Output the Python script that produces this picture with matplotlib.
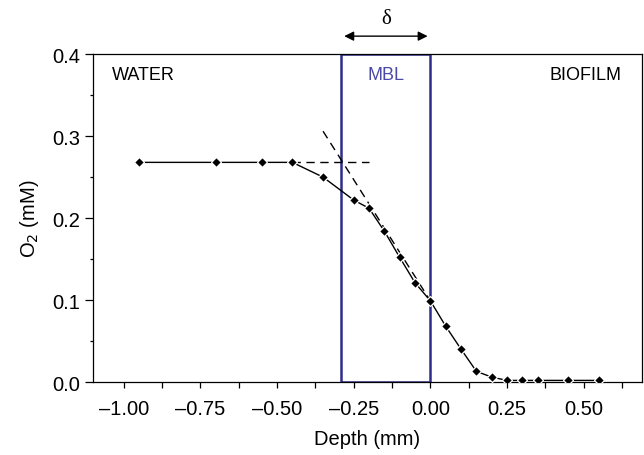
import numpy as np
import matplotlib.pyplot as plt
from matplotlib.ticker import MultipleLocator, FuncFormatter

plt.rcParams['font.family'] = ['Liberation Sans', 'DejaVu Sans']

# measured O2 profile (depth in mm, O2 in mM)
depth = [-0.95, -0.70, -0.55, -0.45, -0.35, -0.25, -0.20, -0.15, -0.10, -0.05,
         0.00, 0.05, 0.10, 0.15, 0.20, 0.25, 0.30, 0.35, 0.45, 0.55]
o2 = [0.268, 0.268, 0.268, 0.268, 0.250, 0.222, 0.212, 0.184, 0.152, 0.121,
      0.099, 0.068, 0.040, 0.013, 0.006, 0.002, 0.002, 0.002, 0.002, 0.002]

# construction lines
bulk_x = [-0.45, -0.20]
bulk_y = [0.268, 0.268]
tangent_x = [-0.35, 0.0]
tangent_y = [0.306, 0.099]

# boundary layer limits
mbl_left = -0.29
mbl_right = 0.0

fig = plt.figure(figsize=(6.44, 4.56), dpi=100)
ax = fig.add_axes([0.1444, 0.160, 0.8526, 0.719])

box_color = '#302c8c'
ax.add_patch(plt.Rectangle((mbl_left, 0), mbl_right - mbl_left, 0.4, fill=False,
                           edgecolor=box_color, linewidth=1.8, zorder=2))

ax.plot(bulk_x, bulk_y, 'k--', linewidth=1, dashes=(6, 4), zorder=3)
ax.plot(tangent_x, tangent_y, 'k--', linewidth=1, dashes=(6, 4), zorder=3)
ax.plot(depth, o2, '-', color='black', linewidth=1, marker='D', markersize=5,
        markerfacecolor='black', markeredgecolor='white', markeredgewidth=0.9, zorder=4)

ax.text(-1.037, 0.375, 'WATER', fontsize=13, va='center', ha='left')
ax.text((mbl_left + mbl_right) / 2, 0.375, 'MBL', fontsize=13, va='center', ha='center',
        color='#4a48a8')
ax.text(0.622, 0.375, 'BIOFILM', fontsize=13, va='center', ha='right')

# delta arrow above the box
ax.annotate('', xy=(mbl_left, 0.422), xytext=(mbl_right, 0.422),
            arrowprops=dict(arrowstyle='<|-|>', color='black', linewidth=1,
                            mutation_scale=14), annotation_clip=False)
ax.text((mbl_left + mbl_right) / 2, 0.443, 'δ', fontsize=15, ha='center', va='center',
        family=['Liberation Serif', 'DejaVu Serif'])

ax.set_xlim(-1.1, 0.69)
ax.set_ylim(0, 0.4)
ax.xaxis.set_major_locator(MultipleLocator(0.25))
ax.xaxis.set_minor_locator(MultipleLocator(0.125))
ax.xaxis.set_major_formatter(FuncFormatter(lambda v, p: f'{v:.2f}'.replace('-', '\u2013')))
ax.yaxis.set_major_locator(MultipleLocator(0.1))
ax.yaxis.set_minor_locator(MultipleLocator(0.05))
ax.yaxis.set_major_formatter(FuncFormatter(lambda v, p: f'{v:.1f}'))

ax.tick_params(axis='x', which='both', direction='out', length=4, width=0.9,
               labelsize=14.5, pad=8)
ax.tick_params(axis='y', which='major', direction='out', length=5.5, width=0.9,
               labelsize=14.5, pad=4)
ax.tick_params(axis='y', which='minor', direction='out', length=2.5, width=0.9)
for s in ax.spines.values():
    s.set_linewidth(0.9)

ax.set_xlabel('Depth (mm)', fontsize=14.5, labelpad=8)
ax.set_ylabel('O$_2$ (mM)', fontsize=14.5, labelpad=8)

fig.savefig('out.png', dpi=100)
